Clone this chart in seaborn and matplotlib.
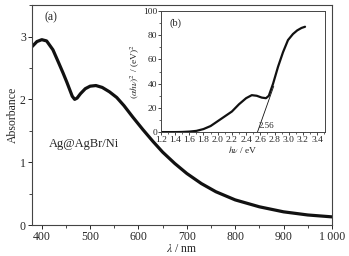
from matplotlib import pyplot as plt
from matplotlib.ticker import MultipleLocator, FuncFormatter
import seaborn as sns
import pandas as pd

sns.set_style("ticks")
plt.rcParams['font.family'] = ['Liberation Serif', 'DejaVu Serif']
plt.rcParams['mathtext.fontset'] = 'stix'

# main spectrum (absorbance vs wavelength)
wavelength = [380, 390, 400, 410, 423, 435, 444, 452, 458, 463, 468, 473, 480,
              490, 500, 512, 525, 540, 555, 570, 588, 609, 630, 650, 675, 700,
              730, 760, 800, 850, 900, 950, 1000]
absorbance = [2.84, 2.92, 2.95, 2.93, 2.79, 2.58, 2.42, 2.27, 2.15, 2.05, 2.00,
              2.02, 2.09, 2.17, 2.21, 2.22, 2.19, 2.12, 2.03, 1.90, 1.72, 1.52,
              1.33, 1.16, 0.98, 0.82, 0.66, 0.53, 0.40, 0.29, 0.21, 0.16, 0.13]

# Tauc plot (inset)
energy = [1.2, 1.4, 1.5, 1.6, 1.7, 1.8, 1.9, 2.0, 2.1, 2.2, 2.3, 2.4, 2.48,
          2.55, 2.62, 2.68, 2.72, 2.78, 2.85, 2.92, 2.99, 3.06, 3.12, 3.18, 3.23]
tauc = [0, 0, 0.1, 0.4, 1.0, 2.5, 5, 9, 13, 17, 23, 28, 30.5,
        30, 28.5, 28, 30, 40, 54, 66, 76, 81, 84, 86, 87]

tangent_x = [2.56, 2.79]
tangent_y = [0, 38]

df_main = pd.DataFrame({'wl': wavelength, 'abs': absorbance})
df_tauc = pd.DataFrame({'ev': energy, 'val': tauc})

fig = plt.figure(figsize=(3.49, 2.56), dpi=100)
ax = fig.add_axes([0.092, 0.121, 0.859, 0.859])
sns.lineplot(data=df_main, x='wl', y='abs', ax=ax, color='#111111', lw=2.3)
ax.set_xlim(380, 1000)
ax.set_ylim(0, 3.5)
ax.xaxis.set_major_locator(MultipleLocator(100))
ax.xaxis.set_minor_locator(MultipleLocator(50))
ax.yaxis.set_major_locator(MultipleLocator(1))
ax.yaxis.set_minor_locator(MultipleLocator(0.5))
ax.xaxis.set_major_formatter(FuncFormatter(
    lambda v, p: '1\u2009000' if v >= 1000 else '%d' % v))
ax.tick_params(which='major', direction='out', length=3, width=0.7, labelsize=8.5, pad=1.5)
ax.tick_params(which='minor', direction='out', length=2, width=0.6)
ax.set_xlabel(r'$\lambda$ / nm', fontsize=8.5, labelpad=0)
ax.set_ylabel('Absorbance', fontsize=8.5, labelpad=1)
for s in ax.spines.values():
    s.set_color('#444444')
    s.set_linewidth(0.8)
ax.text(0.04, 0.93, '(a)', transform=ax.transAxes, fontsize=8.5)
ax.text(415, 1.24, 'Ag@AgBr/Ni', fontsize=9)

ins = fig.add_axes([0.461, 0.484, 0.47, 0.473])
sns.lineplot(data=df_tauc, x='ev', y='val', ax=ins, color='#111111', lw=1.6)
ins.plot(tangent_x, tangent_y, color='#111111', lw=0.6)
ins.set_xlim(1.2, 3.51)
ins.set_ylim(0, 100)
ins.xaxis.set_major_locator(MultipleLocator(0.2))
ins.xaxis.set_minor_locator(MultipleLocator(0.1))
ins.yaxis.set_major_locator(MultipleLocator(20))
ins.yaxis.set_minor_locator(MultipleLocator(10))
ins.xaxis.set_major_formatter(FuncFormatter(lambda v, p: '%.1f' % v))
ins.tick_params(which='major', direction='out', length=2, width=0.6, labelsize=6.8, pad=0.5)
ins.tick_params(which='minor', direction='out', length=1.2, width=0.5)
ins.set_xlabel(r'$h\nu$ / eV', fontsize=6.8, labelpad=0)
ins.set_ylabel(r'$(\alpha h\nu)^2$ / (eV)$^2$', fontsize=6.8, labelpad=1)
for s in ins.spines.values():
    s.set_color('#444444')
    s.set_linewidth(0.7)
ins.text(0.05, 0.88, '(b)', transform=ins.transAxes, fontsize=7.5)
ins.text(2.58, 3, '2.56', fontsize=6.5)

fig.savefig('out.png', dpi=100)
